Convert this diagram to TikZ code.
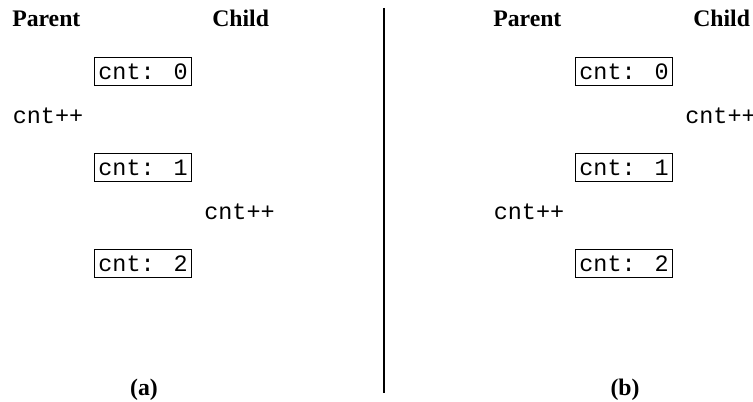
\documentclass[tikz,border=0pt]{standalone}
\usepackage{fontspec}
\setmainfont{Liberation Serif}
\newfontfamily\codefont{Liberation Mono}
\begin{document}
\begin{tikzpicture}[x=0.75pt,y=-0.75pt,
  head/.style={anchor=base west,inner sep=0pt,font=\fontsize{17.8}{20}\selectfont\bfseries},
  code/.style={anchor=base west,inner sep=0pt,font=\fontsize{17.6}{20}\selectfont\codefont},
  cntbox/.style={draw,line width=0.6pt,minimum width=72.75pt,minimum height=21.5pt,inner sep=0pt,font=\fontsize{17.6}{20}\selectfont\codefont},
  subcap/.style={anchor=base,inner sep=0pt,font=\fontsize{17.8}{20}\selectfont\bfseries}]
\useasboundingbox (0,0) rectangle (753,402);
% left panel (a)
\node[head] (pa) at (12,27) {Parent};
\node[head] (ca) at (212,27) {Child};
\node[cntbox] (a0) at (143,71.5) {cnt: 0};
\node[code] (ap) at (12.5,124) {cnt++};
\node[cntbox] (a1) at (143,167.5) {cnt: 1};
\node[code] (ac) at (204,220) {cnt++};
\node[cntbox] (a2) at (143,263.5) {cnt: 2};
\node[subcap] (la) at (144,396) {(a)};
% divider
\coordinate (dtop) at (384,8);
\coordinate (dbot) at (384,393);
\draw[line width=1.1pt] (dtop) -- (dbot);
% right panel (b)
\node[head] (pb) at (493,27) {Parent};
\node[head] (cb) at (693,27) {Child};
\node[cntbox] (b0) at (624,71.5) {cnt: 0};
\node[code] (bc) at (685,124) {cnt++};
\node[cntbox] (b1) at (624,167.5) {cnt: 1};
\node[code] (bp) at (493.5,220) {cnt++};
\node[cntbox] (b2) at (624,263.5) {cnt: 2};
\node[subcap] (lb) at (625,396) {(b)};
\end{tikzpicture}
\end{document}
